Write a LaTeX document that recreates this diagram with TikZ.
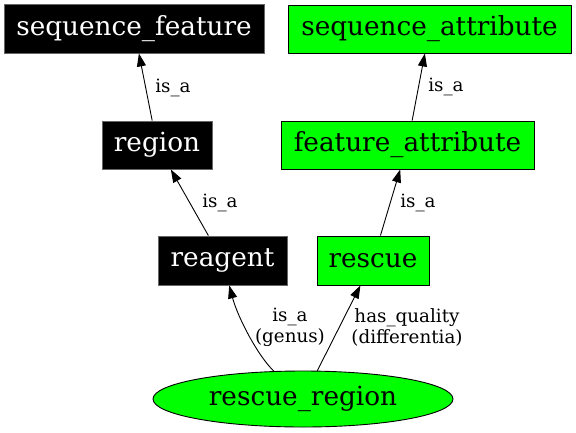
\documentclass[tikz,border=0pt]{standalone}
\usepackage{fontspec}
\setmainfont{DejaVu Serif}
\usetikzlibrary{arrows.meta,shapes.geometric}
\definecolor{ggreen}{HTML}{00FF00}
\tikzset{
  box/.style={rectangle, draw=black, line width=0.9pt, inner sep=0pt, font=\fontsize{26.3}{31}\selectfont},
  blackbox/.style={box, fill=black, draw=black!60, text=white},
  greenbox/.style={box, fill=ggreen},
  oval/.style={ellipse, draw=black, line width=0.9pt, fill=ggreen, inner sep=0pt, font=\fontsize{26.3}{31}\selectfont},
  edge/.style={draw=black, line width=0.9pt, -{Triangle[length=13pt,width=9pt]}},
  elabel/.style={font=\fontsize{18.3}{21}\selectfont, align=center, inner sep=0pt}
}
\begin{document}
\begin{tikzpicture}[x=1pt,y=-1pt]
\useasboundingbox (0,0) rectangle (576,432);
\node[blackbox, minimum width=260pt, minimum height=49pt] (sf) at (134,28.5) {sequence\_feature};
\node[greenbox, minimum width=283pt, minimum height=48pt] (sa) at (429.5,29) {sequence\_attribute};
\node[blackbox, minimum width=110pt, minimum height=48pt] (region) at (157,145) {region};
\node[greenbox, minimum width=253pt, minimum height=48pt] (fa) at (407.5,145) {feature\_attribute};
\node[blackbox, minimum width=129pt, minimum height=49pt] (reagent) at (222.5,260.5) {reagent};
\node[greenbox, minimum width=112pt, minimum height=49pt] (rescue) at (373,260.5) {rescue};
\node[oval, minimum width=300pt, minimum height=56pt] (rr) at (303,399) {rescue\_region};

\draw[edge] (region) -- (sf);
\draw[edge] (fa) -- (sa);
\draw[edge] (reagent) -- (region);
\draw[edge] (rescue) -- (fa);
\draw[edge] (rr) .. controls (258,356) and (238,318) .. (reagent);
\draw[edge] (rr) -- (rescue);

\node[elabel] (l1) at (173,88) {is\_a};
\node[elabel] (l2) at (446,87) {is\_a};
\node[elabel] (l3) at (220,203) {is\_a};
\node[elabel] (l4) at (418,203) {is\_a};
\node[elabel] (l5) at (290,327) {is\_a\\(genus)};
\node[elabel] (l6) at (407,327) {has\_quality\\(differentia)};
\end{tikzpicture}
\end{document}
